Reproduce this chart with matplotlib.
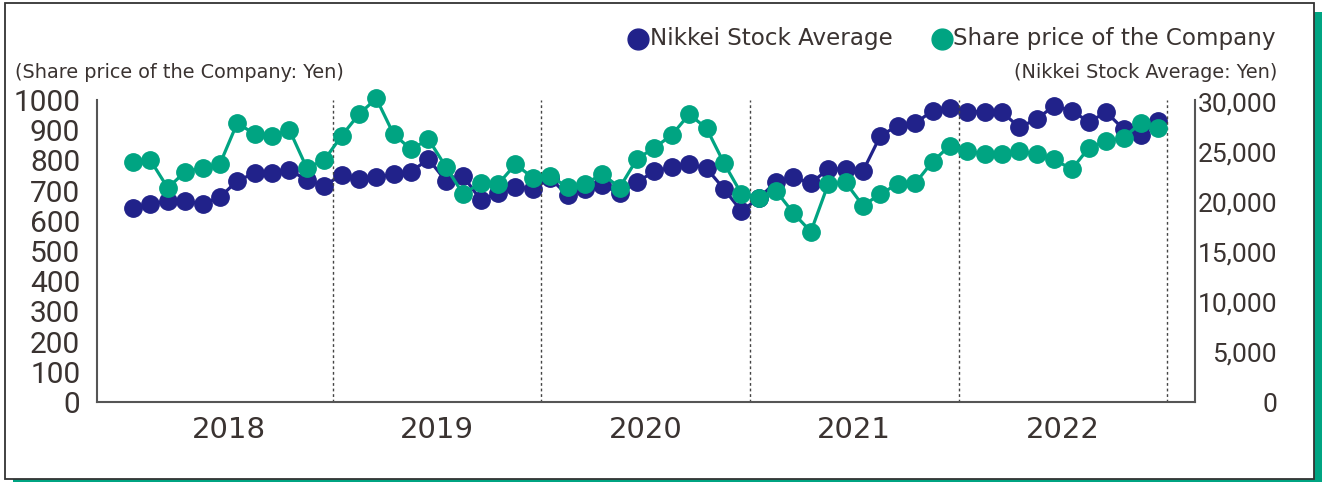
import matplotlib
matplotlib.use('Agg')
import matplotlib.pyplot as plt
from matplotlib.lines import Line2D
from matplotlib.patches import Rectangle
import numpy as np

# ---------------- data ----------------
years = ['2018', '2019', '2020', '2021', '2022']
company = [795, 801, 709, 762, 775, 788, 924, 887, 881, 901, 775, 801,
           881, 953, 1005, 886, 837, 870, 779, 688, 726, 721, 787, 743,
           749, 711, 722, 755, 710, 805, 842, 884, 953, 906, 791, 690,
           677, 699, 625, 564, 722, 727, 650, 689, 722, 724, 796, 849,
           832, 820, 820, 831, 821, 804, 770, 842, 864, 875, 925, 906]
nikkei = [19370, 19800, 20130, 20100, 19800, 20470, 22130, 22870, 22930, 23200, 22200, 21630,
          22700, 22300, 22470, 22770, 23030, 24300, 22100, 22600, 20200, 20870, 21530, 21300,
          22370, 20700, 21300, 21700, 20870, 21970, 23100, 23470, 23800, 23370, 21300, 19100,
          20370, 22030, 22470, 21870, 23300, 23300, 23100, 26630, 27630, 27870, 29130, 29370,
          29030, 29030, 28970, 27470, 28300, 29630, 29100, 28030, 28970, 27270, 26700, 28100]
left_ticks = [0, 100, 200, 300, 400, 500, 600, 700, 800, 900, 1000]
right_ticks = [0, 5000, 10000, 15000, 20000, 25000, 30000]
legend_labels = ['Nikkei Stock Average', 'Share price of the Company']
left_unit = '(Share price of the Company: Yen)'
right_unit = '(Nikkei Stock Average: Yen)'

# ---------------- style ----------------
W, H = 1322, 482
NAVY = '#21228a'
TEAL = '#00a482'
TXT = '#3a3331'

def fx(x):
    return x / W

def fy(y):
    return 1 - y / H

fig = plt.figure(figsize=(W / 100, H / 100), dpi=100)
fig.patch.set_facecolor('white')

# frame with teal shadow
fig.add_artist(Rectangle((fx(13), fy(488)), fx(1322) - fx(13), fy(12) - fy(488),
                         transform=fig.transFigure, facecolor=TEAL, edgecolor='none', zorder=0))
fig.add_artist(Rectangle((fx(5), fy(479)), fx(1314) - fx(5), fy(3) - fy(479),
                         transform=fig.transFigure, facecolor='white', edgecolor='#333333',
                         linewidth=1.3, zorder=0.5))

ax = fig.add_axes([fx(97), fy(402), fx(1195) - fx(97), fy(100) - fy(402)])
ax.set_zorder(2)
ax.patch.set_alpha(0)
ax2 = ax.twinx()
ax2.set_zorder(1)

n = len(company)
x = np.arange(n)
ax.set_xlim(-2.07, 61.1)
ax.set_ylim(0, 1000)
ax2.set_ylim(0, 30000 * 302 / 300)

ax2.plot(x, nikkei, color=NAVY, lw=2.3, marker='o', ms=12.5, zorder=3, clip_on=False)
ax.plot(x, company, color=TEAL, lw=2.3, marker='o', ms=12.5, zorder=4, clip_on=False)

for k in range(len(years)):
    ax.axvline(11.5 + 12 * k, color='#444444', lw=1, ls=(0, (2, 2)), zorder=1)

for a in (ax, ax2):
    a.spines['top'].set_visible(False)
    for s in ('left', 'right', 'bottom'):
        a.spines[s].set_color('#555555')
        a.spines[s].set_linewidth(1.5)
ax.spines['right'].set_visible(False)
ax2.spines['left'].set_visible(False)
ax2.spines['bottom'].set_visible(False)

ax.set_xticks([5.5 + 12 * k for k in range(len(years))])
ax.set_xticklabels(years, fontfamily='DejaVu Sans', fontsize=21, color=TXT)
ax.tick_params(axis='x', length=0, pad=10)

ax.set_yticks(left_ticks)
ax.set_yticklabels([str(v) for v in left_ticks], fontfamily='Roboto', fontsize=21.5, color=TXT)
ax.tick_params(axis='y', length=0, pad=12)

ax2.set_yticks(right_ticks)
ax2.set_yticklabels([f'{v:,}' for v in right_ticks], fontfamily='Roboto', fontsize=19, color=TXT,
                    ha='right')
ax2.tick_params(axis='y', length=0, pad=59)

# unit labels
fig.text(fx(15), fy(72), left_unit, fontfamily='DejaVu Sans', fontsize=13.9, color=TXT, ha='left', va='center')
fig.text(fx(1277), fy(72), right_unit, fontfamily='DejaVu Sans', fontsize=13.9, color=TXT, ha='right', va='center')

# legend
for cx, col, tx, lab in [(638, NAVY, 650, legend_labels[0]), (942, TEAL, 953, legend_labels[1])]:
    fig.add_artist(Line2D([fx(cx)], [fy(39)], marker='o', ms=15, color=col, lw=0,
                          transform=fig.transFigure))
    fig.text(fx(tx), fy(39), lab, fontfamily='DejaVu Sans', fontsize=16.6, color=TXT, ha='left', va='center')

fig.savefig('out.png', dpi=100, facecolor='white')
